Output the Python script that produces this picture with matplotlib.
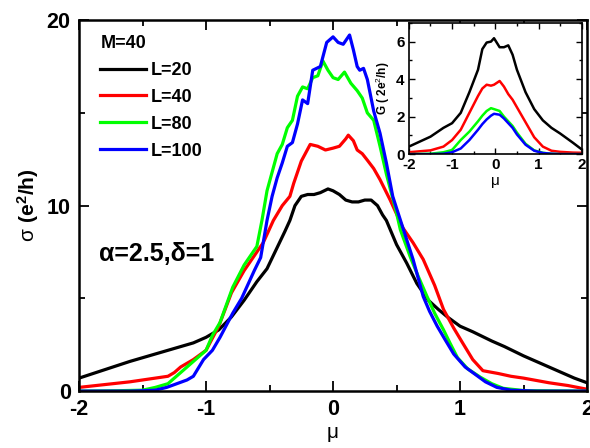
import numpy as np
import matplotlib
matplotlib.use("Agg")
import matplotlib.pyplot as plt
from matplotlib.ticker import MultipleLocator

plt.rcParams['font.family'] = ['Liberation Sans', 'DejaVu Sans']
plt.rcParams['axes.unicode_minus'] = False
plt.rcParams['mathtext.fontset'] = 'custom'
plt.rcParams['mathtext.rm'] = 'Liberation Sans'
plt.rcParams['mathtext.bf'] = 'Liberation Sans:bold'

# main panel: sigma (e^2/h) vs mu, M=40
mu_20 = [-2, -1.8, -1.6, -1.5, -1.3, -1.1, -1.0, -0.9, -0.8, -0.7, -0.6, -0.52, -0.45, -0.38, -0.34,
         -0.3, -0.25, -0.2, -0.15, -0.1, -0.04, 0.0, 0.05, 0.1, 0.15, 0.2, 0.25, 0.3, 0.35, 0.39, 0.42,
         0.5, 0.58, 0.66, 0.75, 0.83, 0.9, 1.0, 1.1, 1.16, 1.25, 1.35, 1.5, 1.6, 1.7, 1.8, 1.9, 2.0]
sig_20 = [0.7, 1.15, 1.6, 1.8, 2.2, 2.6, 2.9, 3.3, 4.0, 4.9, 5.9, 6.6, 7.6, 8.6, 9.2,
          10.0, 10.5, 10.6, 10.6, 10.7, 10.9, 10.8, 10.6, 10.3, 10.2, 10.2, 10.3, 10.3, 10.0, 9.5, 9.2,
          7.9, 6.9, 5.8, 4.9, 4.4, 4.0, 3.5, 3.2, 3.0, 2.7, 2.4, 1.9, 1.6, 1.3, 1.0, 0.7, 0.45]

mu_40 = [-2, -1.8, -1.6, -1.5, -1.4, -1.3, -1.25, -1.2, -1.1, -1.0, -0.9, -0.8, -0.7, -0.63, -0.55,
         -0.47, -0.4, -0.34, -0.31, -0.25, -0.18, -0.12, -0.06, 0.0, 0.05, 0.1, 0.12, 0.16, 0.19, 0.23,
         0.27, 0.32, 0.37, 0.45, 0.55, 0.63, 0.71, 0.8, 0.87, 0.95, 1.02, 1.1, 1.18, 1.3, 1.4, 1.5,
         1.7, 1.85, 2.0]
sig_40 = [0.2, 0.35, 0.5, 0.6, 0.7, 0.8, 1.0, 1.3, 1.7, 2.2, 3.5, 5.3, 6.5, 7.2, 8.0,
          9.2, 10.0, 10.5, 11.2, 12.4, 13.3, 13.2, 13.0, 13.1, 13.2, 13.6, 13.8, 13.5, 13.0, 12.8,
          12.45, 12.0, 11.4, 10.3, 8.8, 8.0, 7.1, 5.7, 4.4, 3.4, 2.6, 1.7, 1.1, 0.95, 0.8, 0.7,
          0.45, 0.3, 0.1]

mu_80 = [-2, -1.7, -1.5, -1.4, -1.3, -1.2, -1.1, -1.0, -0.95, -0.89, -0.79, -0.7, -0.6, -0.56, -0.52,
         -0.44, -0.4, -0.36, -0.32, -0.28, -0.24, -0.2, -0.16, -0.12, -0.08, -0.04, 0.0, 0.04, 0.09,
         0.14, 0.19, 0.23, 0.27, 0.32, 0.37, 0.42, 0.5, 0.53, 0.61, 0.67, 0.74, 0.8, 0.87, 0.92, 0.98,
         1.06, 1.16, 1.25, 1.34, 1.5, 2.0]
sig_80 = [0.0, 0.02, 0.05, 0.2, 0.4, 1.0, 1.6, 2.2, 3.0, 3.7, 5.6, 6.8, 7.8, 9.2, 10.8,
          12.8, 13.3, 14.2, 14.6, 15.9, 16.4, 16.3, 16.9, 17.0, 17.8, 17.3, 16.9, 16.8, 17.2,
          16.6, 16.2, 15.8, 15.0, 14.6, 13.2, 11.7, 9.6, 8.7, 7.2, 6.2, 5.1, 4.2, 3.3, 2.6, 1.8,
          1.2, 0.75, 0.4, 0.15, 0.03, 0.0]

mu_100 = [-2, -1.6, -1.5, -1.4, -1.31, -1.25, -1.15, -1.1, -1.02, -0.95, -0.89, -0.79, -0.72, -0.68,
          -0.62, -0.57, -0.52, -0.48, -0.44, -0.4, -0.36, -0.32, -0.28, -0.24, -0.2, -0.16, -0.1,
          -0.05, 0.0, 0.04, 0.08, 0.13, 0.16, 0.19, 0.21, 0.24, 0.27, 0.32, 0.37, 0.42, 0.47, 0.55,
          0.63, 0.71, 0.76, 0.82, 0.88, 0.95, 1.04, 1.13, 1.2, 1.29, 1.4, 1.6, 2.0]
sig_100 = [0.0, 0.0, 0.02, 0.05, 0.2, 0.35, 0.6, 0.8, 1.7, 2.2, 2.9, 4.2, 5.0, 5.6,
           6.5, 7.2, 9.2, 10.5, 11.5, 12.3, 13.2, 13.4, 14.4, 15.7, 15.5, 17.3, 17.5,
           18.8, 19.1, 18.8, 18.7, 19.2, 18.4, 17.5, 17.3, 17.4, 16.8, 15.1, 13.9, 12.3, 10.5, 8.8,
           7.1, 5.1, 4.3, 3.5, 2.8, 2.0, 1.3, 0.85, 0.5, 0.2, 0.05, 0.0, 0.0]

# inset: G (2e^2/h) vs mu
mu_in = [-2, -1.5, -1.2, -1.0, -0.8, -0.6, -0.4, -0.3, -0.2, -0.1, -0.03, 0.1, 0.2, 0.3, 0.4,
         0.5, 0.7, 0.9, 1.1, 1.3, 1.5, 1.8, 2.0]
g_20 = [0.4, 0.93, 1.4, 1.65, 2.2, 3.3, 4.5, 5.6, 5.95, 6.0, 6.18, 5.7, 5.7, 5.8, 5.3,
        4.5, 3.3, 2.4, 1.8, 1.4, 1.1, 0.6, 0.25]
g_40 = [0.1, 0.2, 0.4, 0.75, 1.3, 2.2, 3.1, 3.5, 3.7, 3.65, 3.7, 3.9, 3.6, 3.2, 2.9,
        2.5, 1.7, 0.9, 0.4, 0.18, 0.12, 0.08, 0.07]
g_80 = [0.0, 0.02, 0.1, 0.22, 0.75, 1.2, 1.75, 2.05, 2.3, 2.45, 2.4, 2.3, 2.0, 1.75, 1.5,
        1.15, 0.55, 0.2, 0.07, 0.02, 0.0, 0.0, 0.0]
g_100 = [0.0, 0.0, 0.02, 0.1, 0.3, 0.75, 1.3, 1.6, 1.85, 2.05, 2.15, 2.1, 1.9, 1.65, 1.4,
         1.05, 0.5, 0.18, 0.06, 0.02, 0.0, 0.0, 0.0]

labels = ['L=20', 'L=40', 'L=80', 'L=100']
colors = ['black', 'red', 'lime', 'blue']

fig = plt.figure(figsize=(5.9, 4.48), dpi=100)
ax = fig.add_axes([0.134, 0.127, 0.861, 0.828])

main_data = [(mu_20, sig_20), (mu_40, sig_40), (mu_80, sig_80), (mu_100, sig_100)]
for (x, y), c, lab in zip(main_data, colors, labels):
    ax.plot(x, y, color=c, lw=2.3, label=lab)

ax.set_xlim(-2, 2)
ax.set_ylim(0, 20)
ax.xaxis.set_major_locator(MultipleLocator(1))
ax.xaxis.set_minor_locator(MultipleLocator(0.5))
ax.yaxis.set_major_locator(MultipleLocator(10))
ax.yaxis.set_minor_locator(MultipleLocator(5))
ax.tick_params(which='both', direction='in', top=True, right=True, width=1.3)
ax.tick_params(which='major', length=7, labelsize=15.5, pad=6)
ax.tick_params(which='minor', length=4)
for lbl in ax.get_xticklabels() + ax.get_yticklabels():
    lbl.set_fontweight('bold')
for s in ax.spines.values():
    s.set_linewidth(1.8)

ax.set_xlabel('μ', fontsize=15, labelpad=2)
ax.set_ylabel(r'$\mathrm{σ}\ \mathbf{(e^2/h)}$', fontsize=15, labelpad=4)

leg = ax.legend(loc='upper left', bbox_to_anchor=(0.01, 1.004), frameon=False, title='M=40',
                prop={'weight': 'bold', 'size': 13}, handlelength=2.5, handletextpad=0.3,
                labelspacing=0.55, alignment='left')
leg.get_title().set_fontsize(13)
leg.get_title().set_fontweight('bold')

ax.text(0.04, 0.35, 'α=2.5,δ=1', transform=ax.transAxes, fontsize=18, fontweight='bold')

# inset
ins = fig.add_axes([0.693, 0.656, 0.293, 0.293])
for g, c in zip([g_20, g_40, g_80, g_100], colors):
    ins.plot(mu_in, g, color=c, lw=1.8)
ins.set_xlim(-2, 2)
ins.set_ylim(0, 7)
ins.xaxis.set_major_locator(MultipleLocator(1))
ins.xaxis.set_minor_locator(MultipleLocator(0.5))
ins.yaxis.set_major_locator(MultipleLocator(2))
ins.yaxis.set_minor_locator(MultipleLocator(1))
ins.tick_params(which='both', direction='in', top=True, right=True, width=1)
ins.tick_params(which='major', length=4, labelsize=11, pad=3)
ins.tick_params(which='minor', length=2.5)
for lbl in ins.get_xticklabels() + ins.get_yticklabels():
    lbl.set_fontweight('bold')
for s in ins.spines.values():
    s.set_linewidth(1.2)
ins.set_xlabel('μ', fontsize=11, labelpad=1)
ins.set_ylabel('G ( 2e$^2$/h)', fontsize=8.5, fontweight='bold', labelpad=3)

fig.savefig('out.png', dpi=100)
